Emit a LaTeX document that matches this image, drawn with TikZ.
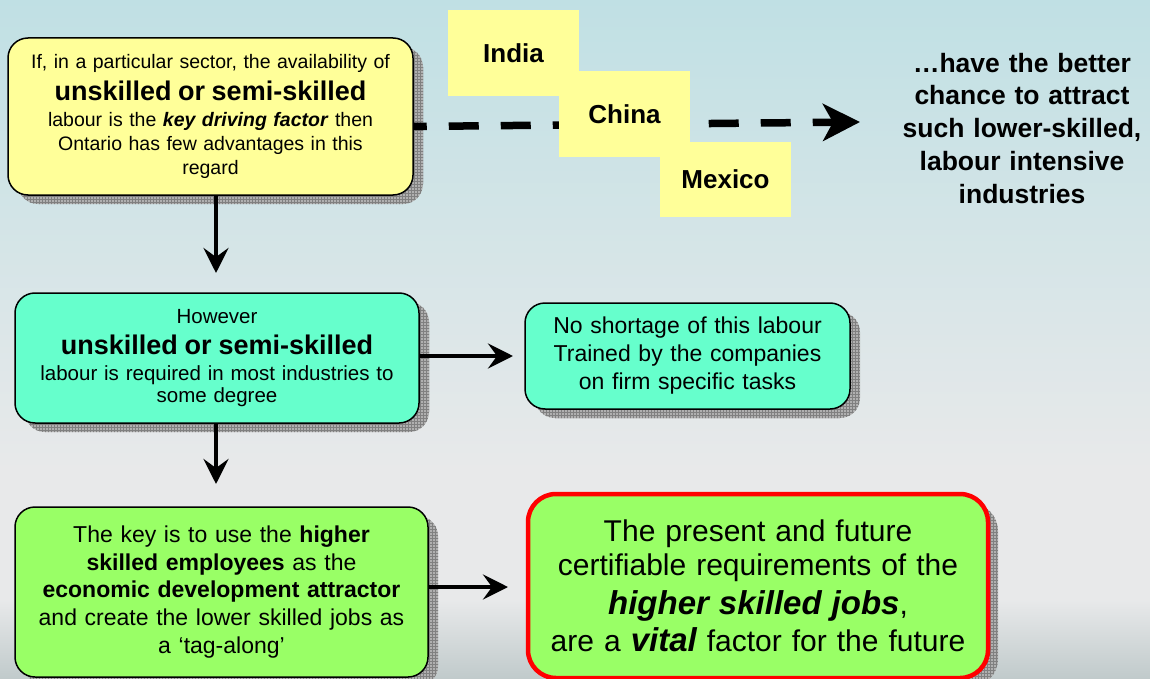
\documentclass[tikz,border=0pt]{standalone}
\usepackage{fontspec}
\setmainfont{Liberation Sans}
\usetikzlibrary{arrows.meta,shadows,patterns,calc}
\definecolor{boxyellow}{RGB}{255,255,153}
\definecolor{boxteal}{RGB}{102,255,204}
\definecolor{boxgreen}{RGB}{153,255,102}
\definecolor{bgtop}{RGB}{192,224,228}
\definecolor{bgmid}{RGB}{232,233,234}
\definecolor{bgbot}{RGB}{192,202,203}
\definecolor{shadowgray}{RGB}{176,176,176}
\definecolor{gridgray}{RGB}{128,128,128}
\tikzset{
  gridshadow/.style={
    general shadow={shadow xshift=10pt, shadow yshift=-9pt, fill=shadowgray},
    general shadow={shadow xshift=10pt, shadow yshift=-9pt, pattern=grid, pattern color=gridgray}},
  flowbox/.style={draw=black, line width=1.5pt, rounded corners=20pt, align=center, inner sep=0pt, gridshadow},
  country/.style={fill=boxyellow, inner sep=0pt, minimum width=131pt, font=\fontsize{26}{30}\selectfont\bfseries},
  arr/.style={-{Stealth[length=25pt, width=25pt, inset=9pt]}, line width=4pt},
  dasharr/.style={-{Stealth[length=37pt, width=37pt, inset=10pt]}, line width=7.5pt, dash pattern=on 30pt off 22pt, dash phase=17pt},
}
\begin{document}
\begin{tikzpicture}[x=1pt,y=-1pt]
\useasboundingbox (0,0) rectangle (1150,679);
\shade[top color=bgtop, bottom color=bgmid] (0,0) rectangle (1150,470);
\fill[bgmid] (0,469) rectangle (1150,601);
\shade[top color=bgmid, bottom color=bgbot] (0,600) rectangle (1150,679);

% coordinates for free arrow ends
\coordinate (t1) at (216,273);
\coordinate (t2) at (216,484);
\coordinate (t3) at (513,356);
\coordinate (t5) at (508,587);
\coordinate (d1) at (860,122);

\node[flowbox, fill=boxyellow, minimum width=405pt, minimum height=157pt, text width=398pt,
  font=\fontsize{19.5}{24}\selectfont] (b1) at (210.5,116.5)
  {\lineskiplimit=-100pt If, in a particular sector, the availability of\\[8pt]
   {\fontsize{27}{30}\selectfont\bfseries unskilled or semi-skilled}\\[2pt]
   labour is the \textbf{\textit{key driving factor}} then\\[0pt]
   Ontario has few advantages in this\\[-0.7pt]
   regard};

\node[flowbox, fill=boxteal, minimum width=404pt, minimum height=130pt, text width=396pt,
  font=\fontsize{20.5}{23}\selectfont] (b2) at (217,358)
  {\lineskiplimit=-100pt However\\[7.5pt]
   {\fontsize{27}{30}\selectfont\bfseries unskilled or semi-skilled}\\[3pt]
   labour is required in most industries to\\[-1pt]
   some degree};

\node[flowbox, fill=boxteal, minimum width=325pt, minimum height=106pt, text width=318pt,
  font=\fontsize{23}{28}\selectfont] (b3) at (687.5,356)
  {\lineskiplimit=-100pt No shortage of this labour\\
   Trained by the companies\\
   on firm specific tasks};

\node[flowbox, fill=boxgreen, minimum width=413pt, minimum height=170pt, text width=405pt,
  font=\fontsize{23}{27.8}\selectfont] (b4) at (221.5,592)
  {\lineskiplimit=-100pt The key is to use the \textbf{higher}\\
   \textbf{skilled employees} as the\\
   \textbf{economic development attractor}\\
   and create the lower skilled jobs as\\
   a ‘tag-along’};

\node[flowbox, draw=red, line width=4.5pt, rounded corners=28pt, fill=boxgreen,
  minimum width=460pt, minimum height=184pt, text width=450pt,
  font=\fontsize{30}{33.3}\selectfont] (b5) at (758,586)
  {\lineskiplimit=-100pt The present and future\\
   certifiable requirements of the\\[6.5pt]
   {\fontsize{33}{36}\selectfont\bfseries\itshape higher skilled jobs},\\[3.6pt]
   are a {\fontsize{33}{36}\selectfont\bfseries\itshape vital} factor for the future};

% countries and dashed arrow
\node[country, minimum height=86pt] (india) at (513.5,53) {India};
\draw[dasharr] ([yshift=-10pt]b1.east) -- (d1);
\node[country, minimum height=86pt] (china) at (624.5,114) {China};
\node[country, minimum height=75pt] (mexico) at (725.5,179.5) {Mexico};

\node[anchor=north, align=center, text width=262pt, inner sep=0pt,
  font=\fontsize{26.5}{32.8}\selectfont\bfseries] (rt) at (1022,52.6)
  {\lineskiplimit=-100pt …have the better\\
   chance to attract\\
   such lower-skilled,\\
   labour intensive\\
   industries};

% connectors
\draw[arr] (b1.south -| t1) -- (t1);
\draw[arr] (b2.south -| t2) -- (t2);
\draw[arr] (b2.east |- t3) -- (t3);
\draw[arr] (b4.east |- t5) -- (t5);
\end{tikzpicture}
\end{document}
